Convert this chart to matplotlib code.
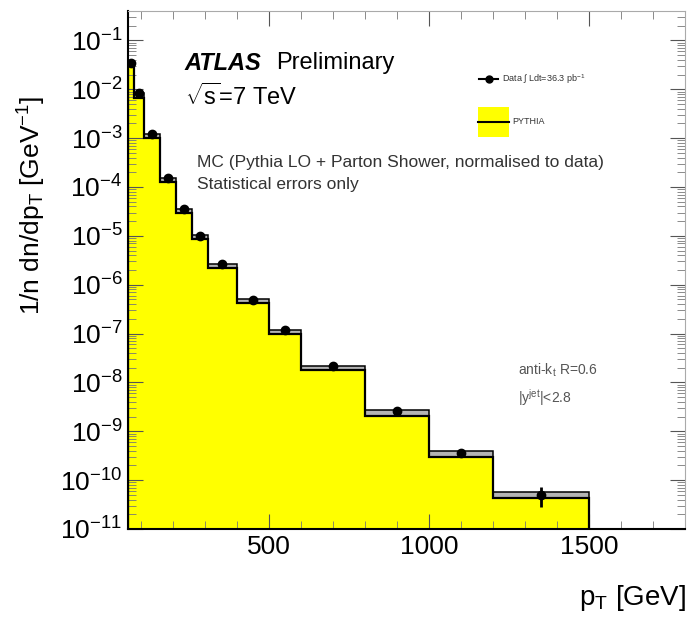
import numpy as np
import matplotlib
matplotlib.use("Agg")
import matplotlib.pyplot as plt
from matplotlib.ticker import LogLocator, MultipleLocator, NullFormatter

plt.rcParams['font.family'] = ['Liberation Sans', 'DejaVu Sans']
plt.rcParams['mathtext.fontset'] = 'custom'
plt.rcParams['mathtext.rm'] = 'Liberation Sans'
plt.rcParams['mathtext.it'] = 'Liberation Sans:italic'
plt.rcParams['mathtext.bf'] = 'Liberation Sans:bold'

# bin edges in pT [GeV]
edges = [60, 80, 110, 160, 210, 260, 310, 400, 500, 600, 800, 1000, 1200, 1500]
# PYTHIA (yellow histogram top)
mc = [0.032, 6.7e-3, 1.0e-3, 1.25e-4, 2.9e-5, 8.5e-6, 2.2e-6, 4.3e-7,
      9.8e-8, 1.78e-8, 2.1e-9, 3.0e-10, 4.4e-11]
# upper edge of the grey band
band_hi = [0.035, 8.4e-3, 1.2e-3, 1.5e-4, 3.5e-5, 1.02e-5, 2.7e-6, 5.0e-7,
           1.2e-7, 2.2e-8, 2.7e-9, 3.9e-10, 5.6e-11]
# data points
data_x = [70, 95, 135, 185, 235, 285, 355, 450, 550, 700, 900, 1100, 1350]
data_y = [0.035, 8.5e-3, 1.2e-3, 1.5e-4, 3.5e-5, 1.0e-5, 2.7e-6, 4.9e-7,
          1.2e-7, 2.15e-8, 2.6e-9, 3.6e-10, 5.0e-11]
data_err = [0, 0, 0, 0, 0, 0, 0, 0, 0, 0, 0, 0, 2.2e-11]

fig = plt.figure(figsize=(6.92, 6.19), dpi=100)
ax = fig.add_axes([128/692, 1-529/619, 557/692, 518/619])

floor = 1e-12
mc_st = mc + [mc[-1]]
hi_st = band_hi + [band_hi[-1]]
ax.fill_between(edges, floor, mc_st, step='post', color='#ffff00', lw=0, zorder=1)
ax.fill_between(edges, mc_st, hi_st, step='post', color='#b4b4b4', lw=0, zorder=2)
ax.stairs(band_hi, edges, color='black', lw=1.1, zorder=3)
ax.stairs(mc, edges, color='black', lw=1.6, zorder=3, baseline=floor)
ax.errorbar(data_x, data_y, yerr=data_err, fmt='o', color='black', ms=6,
            elinewidth=2, capsize=0, zorder=5)

ax.set_yscale('log')
ax.set_xlim(60, 1800)
ax.set_ylim(1e-11, 0.4)
ax.yaxis.set_major_locator(LogLocator(base=10, numticks=20))
ax.yaxis.set_minor_locator(LogLocator(base=10, subs=np.arange(2, 10), numticks=100))
ax.yaxis.set_minor_formatter(NullFormatter())
ax.set_xticks([500, 1000, 1500])
ax.xaxis.set_minor_locator(MultipleLocator(100))
ax.tick_params(which='both', direction='in', top=True, right=True, labelsize=19, pad=4)
ax.tick_params(which='major', length=11, width=0.8, color='#555555')
ax.tick_params(which='minor', length=6, width=0.6, color='#777777')
for side in ['top', 'right']:
    ax.spines[side].set_color('#aaaaaa')
for side in ['left', 'bottom']:
    ax.spines[side].set_linewidth(1.5)

fig.text(32/692, 1-205/619, r'1/n dn/dp$_{\mathrm{T}}$ [GeV$^{-1}$]', rotation=90,
         ha='center', va='center', fontsize=19)
fig.text(686/692, 1-598/619, r'p$_{\mathrm{T}}$ [GeV]', ha='right', va='center', fontsize=20)

ax.text(0.102, 0.899, 'ATLAS', transform=ax.transAxes, fontsize=17,
        fontweight='bold', style='italic', va='center')
ax.text(0.266, 0.899, 'Preliminary', transform=ax.transAxes, fontsize=17, va='center')
ax.text(0.102, 0.834, r'$\sqrt{\mathrm{s}}$=7 TeV', transform=ax.transAxes,
        fontsize=17, va='center')
ax.text(0.124, 0.707, 'MC (Pythia LO + Parton Shower, normalised to data)',
        transform=ax.transAxes, fontsize=12.5, va='center', color='#333333')
ax.text(0.124, 0.666, 'Statistical errors only', transform=ax.transAxes,
        fontsize=12.5, va='center', color='#333333')
ax.text(0.701, 0.307, r'anti-k$_{\mathrm{t}}$ R=0.6', transform=ax.transAxes,
        fontsize=10, va='center', color='#555555')
ax.text(0.701, 0.253, r'|y$^{\mathrm{jet}}$|<2.8', transform=ax.transAxes,
        fontsize=10, va='center', color='#555555')

# legend drawn by hand
ax.plot([0.630, 0.665], [0.868, 0.868], transform=ax.transAxes, color='black', lw=1.5)
ax.plot([0.6475], [0.868], 'o', transform=ax.transAxes, color='black', ms=5)
ax.text(0.672, 0.868, r'Data $\int$ Ldt=36.3 pb$^{-1}$', transform=ax.transAxes,
        fontsize=6.5, va='center', color='#333333')
ax.add_patch(plt.Rectangle((0.628, 0.757), 0.056, 0.058, transform=ax.transAxes,
                           facecolor='#ffff00', edgecolor='none'))
ax.plot([0.628, 0.684], [0.786, 0.786], transform=ax.transAxes, color='black', lw=1.5)
ax.text(0.690, 0.786, 'PYTHIA', transform=ax.transAxes, fontsize=6.5,
        va='center', color='#333333')

fig.savefig('out.png', dpi=100)
